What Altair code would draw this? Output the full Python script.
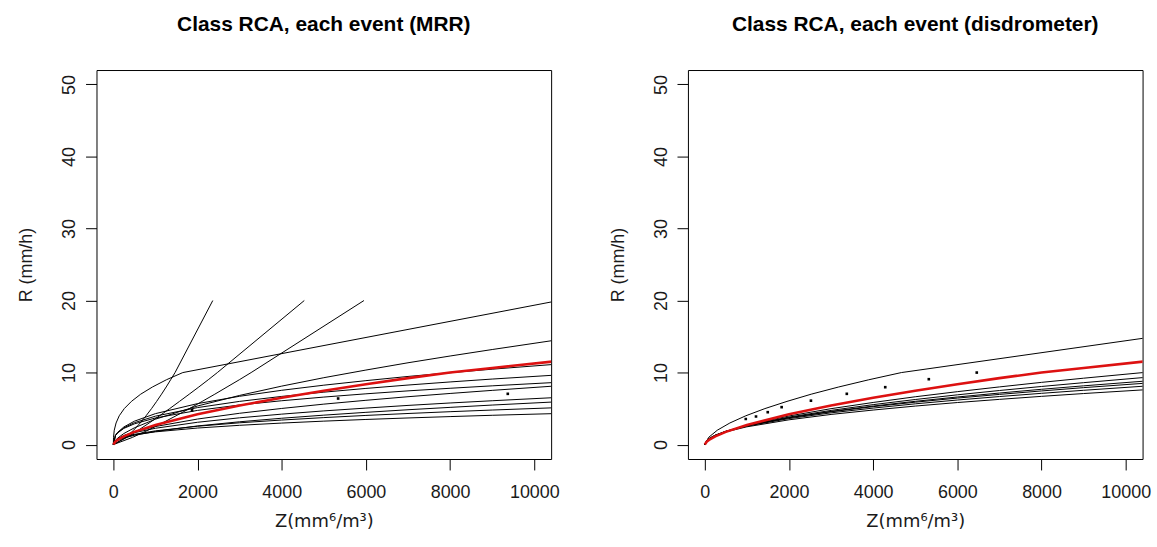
import altair as alt
import pandas as pd

# Shared Z positions (mm^6/m^3) at which the smooth relations are tabulated
Z_GRID = [0, 50, 100, 250, 500, 1000, 2000, 3000, 4000, 5000, 6000, 7000, 8000, 9000, 10500]

# Rain-rate steps for relations tabulated in R (last step jumps to 20 mm/h)
R_STEPS = [0, 1, 2, 3, 4, 5, 6, 7, 8, 9, 10, 20]

# Class reference relation (red), R in mm/h at Z_GRID
RED_R = [0, 0.42, 0.65, 1.15, 1.77, 2.73, 4.22, 5.43, 6.50, 7.48, 8.38, 9.23, 10.0, 10.64, 11.57]

# MRR events: R (mm/h) at Z_GRID
MRR_GRID_CURVES = {
    "m1": [0, 0.59, 0.89, 1.54, 2.33, 3.53, 5.36, 6.83, 8.12, 9.29, 10.35, 11.36, 12.3, 13.2, 14.5],
    "m2": [0, 1.28, 1.69, 2.45, 3.25, 4.30, 5.69, 6.71, 7.54, 8.25, 8.88, 9.46, 9.98, 10.47, 11.15],
    "m3": [0, 1.27, 1.65, 2.33, 3.04, 3.95, 5.14, 6.00, 6.69, 7.28, 7.80, 8.27, 8.70, 9.10, 9.65],
    "m4": [0, 1.26, 1.61, 2.25, 2.88, 3.70, 4.75, 5.50, 6.09, 6.60, 7.05, 7.46, 7.82, 8.16, 8.63],
    "m5": [0, 0.56, 0.79, 1.26, 1.78, 2.51, 3.55, 4.35, 5.02, 5.62, 6.15, 6.65, 7.10, 7.53, 8.14],
    "m6": [0, 0.59, 0.80, 1.21, 1.66, 2.27, 3.10, 3.72, 4.23, 4.68, 5.07, 5.44, 5.78, 6.09, 6.53],
    "m7": [0, 0.41, 0.58, 0.91, 1.29, 1.83, 2.59, 3.17, 3.66, 4.09, 4.48, 4.84, 5.17, 5.49, 5.93],
    "m8": [0, 0.54, 0.73, 1.07, 1.43, 1.91, 2.55, 3.03, 3.41, 3.75, 4.05, 4.32, 4.57, 4.80, 5.12],
    "m9": [0, 0.57, 0.74, 1.04, 1.36, 1.77, 2.30, 2.68, 2.99, 3.26, 3.49, 3.70, 3.89, 4.07, 4.31],
}

# MRR events: Z (mm^6/m^3) at R_STEPS
MRR_STEP_CURVES = {
    "t":  [0, 4, 22, 65, 140, 260, 430, 650, 930, 1260, 1650, 10580],
    "s1": [0, 299, 482, 638, 777, 908, 1029, 1145, 1256, 1361, 1466, 2362],
    "s2": [0, 322, 595, 851, 1099, 1339, 1572, 1803, 2031, 2254, 2471, 4536],
    "s3": [0, 454, 823, 1165, 1489, 1809, 2111, 2411, 2701, 2992, 3273, 5953],
}

MRR_DOT_Z = [1870, 5340, 9370]
MRR_DOT_R = [4.75, 6.4, 7.05]

# Disdrometer events: R (mm/h) at Z_GRID
DIS_GRID_CURVES = {
    "d1": [0, 0.50, 0.74, 1.24, 1.83, 2.69, 3.97, 4.99, 5.85, 6.64, 7.35, 8.01, 8.64, 9.22, 10.05],
    "d2": [0, 0.52, 0.76, 1.24, 1.81, 2.63, 3.82, 4.75, 5.55, 6.26, 6.91, 7.51, 8.07, 8.60, 9.35],
    "d3": [0, 0.55, 0.79, 1.27, 1.82, 2.60, 3.73, 4.61, 5.35, 6.01, 6.61, 7.16, 7.68, 8.16, 8.84],
    "d4": [0, 0.59, 0.83, 1.32, 1.86, 2.64, 3.73, 4.56, 5.27, 5.89, 6.46, 6.97, 7.45, 7.91, 8.54],
    "d5": [0, 0.59, 0.83, 1.30, 1.83, 2.57, 3.61, 4.41, 5.07, 5.66, 6.19, 6.67, 7.12, 7.54, 8.14],
    "d6": [0, 0.59, 0.82, 1.27, 1.77, 2.47, 3.44, 4.19, 4.80, 5.35, 5.84, 6.28, 6.70, 7.09, 7.63],
}

# Disdrometer events: Z (mm^6/m^3) at R_STEPS
DIS_STEP_CURVES = {
    "top": [0, 91, 298, 596, 974, 1429, 1953, 2529, 3182, 3896, 4670, 16730],
}

DIS_DOT_Z = [974, 1217, 1496, 1826, 2522, 3374, 4287, 5322, 6461]
DIS_DOT_R = [3.55, 3.9, 4.5, 5.2, 6.1, 7.05, 7.97, 9.08, 10.0]

FONT = "Liberation Sans"
TEXT = "#1a1a1a"


def lines_frame(grid_curves, step_curves):
    rows = []
    for name, rs in grid_curves.items():
        for i, (z, r) in enumerate(zip(Z_GRID, rs)):
            rows.append({"curve": name, "Z": z, "R": r, "i": i})
    for name, zs in step_curves.items():
        for i, (z, r) in enumerate(zip(zs, R_STEPS)):
            rows.append({"curve": name, "Z": z, "R": r, "i": i})
    return pd.DataFrame(rows)


x_axis = alt.Axis(
    values=[0, 2000, 4000, 6000, 8000, 10000], format="d",
    title="Z(mm⁶/m³)", grid=False, domain=False,
    tickSize=11, tickColor="black", tickWidth=1,
    labelPadding=14, labelFontSize=18, labelFont=FONT, labelColor=TEXT,
    labelFlush=False, labelOverlap=False,
    titleFontSize=18, titleFont="DejaVu Sans", titleFontWeight="normal", titleColor=TEXT,
    titleY=68, titleBaseline="alphabetic",
)

y_axis = alt.Axis(
    values=[0, 10, 20, 30, 40, 50], format="d",
    title="R (mm/h)", grid=False, domain=False,
    tickSize=11, tickColor="black", tickWidth=1,
    labelAngle=270, labelAlign="center", labelBaseline="alphabetic",
    labelPadding=11, labelFontSize=18, labelFont=FONT, labelColor=TEXT,
    labelFlush=False, labelOverlap=False,
    titleAngle=270, titleAlign="center", titleBaseline="alphabetic", titleX=-65,
    titleFontSize=18, titleFont=FONT, titleFontWeight="normal", titleColor=TEXT,
)

X = alt.X("Z:Q", scale=alt.Scale(domain=[-400, 10400], nice=False, zero=False), axis=x_axis)
Y = alt.Y("R:Q", scale=alt.Scale(domain=[-2, 52], nice=False, zero=False), axis=y_axis)


def panel(title, grid_curves, step_curves, dot_z, dot_r):
    black = alt.Chart(lines_frame(grid_curves, step_curves)).mark_line(
        color="black", strokeWidth=1, clip=True
    ).encode(x=X, y=Y, detail="curve:N", order="i:Q")
    dots = alt.Chart(pd.DataFrame({"Z": dot_z, "R": dot_r})).mark_square(
        size=7, color="black", opacity=1, clip=True
    ).encode(x=X, y=Y)
    red = alt.Chart(pd.DataFrame({"Z": Z_GRID, "R": RED_R})).mark_line(
        color="#dd1111", strokeWidth=2.6, clip=True
    ).encode(x=X, y=Y)
    return alt.layer(black, dots, red).properties(
        width=457, height=391,
        title=alt.TitleParams(
            title, font=FONT, fontSize=21, fontWeight="bold", color="black",
            anchor="middle", baseline="alphabetic", offset=18,
        ),
    )


left = panel("Class RCA, each event (MRR)", MRR_GRID_CURVES, MRR_STEP_CURVES, MRR_DOT_Z, MRR_DOT_R)
right = panel("Class RCA, each event (disdrometer)", DIS_GRID_CURVES, DIS_STEP_CURVES, DIS_DOT_Z, DIS_DOT_R)

chart = (
    alt.hconcat(left, right, spacing=48.5)
    .properties(padding={"left": 17, "top": 12, "right": 5, "bottom": 5}, background="white")
    .configure(font=FONT)
    .configure_view(stroke="black", strokeWidth=1)
)

chart.save("out.html", embed_options={"renderer": "svg", "actions": False})
